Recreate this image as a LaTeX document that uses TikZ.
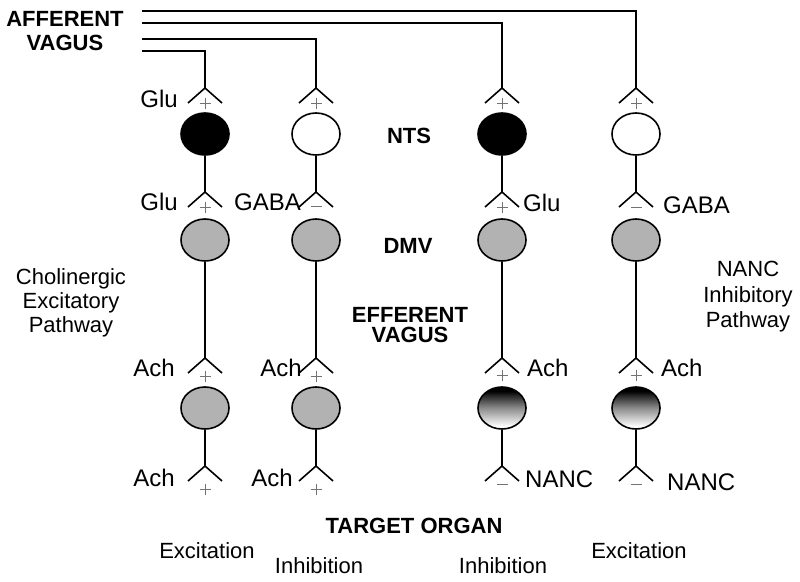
\documentclass[tikz,border=0pt]{standalone}
\usepackage{fontspec}
\setmainfont{Liberation Sans}
\usepackage{tikz}
\usetikzlibrary{shapes,positioning}

% dark cap on top, fading to white at the bottom
\pgfdeclareverticalshading{nancfill}{100bp}{color(0bp)=(white); color(28bp)=(white); color(50bp)=(black!45); color(65bp)=(black!85); color(70bp)=(black); color(100bp)=(black)}

% receptor fork below a fibre end
\newcommand{\fork}[1]{\draw [nerve] (#1) -- +(-17,15) (#1) -- +(17,15);}
\newcommand{\plussign}[2]{\draw [sign] (#1) ++(-5.5,#2) -- +(11,0) (#1) ++(0,{#2-5.5}) -- +(0,11);}
\newcommand{\minussign}[2]{\draw [sign] (#1) ++(-5.5,#2) -- +(11,0);}

\begin{document}
\begin{tikzpicture}[x=1pt,y=-1pt]
\tikzstyle{nerve} = [line width=1.6pt]
\tikzstyle{cell} = [ellipse, draw, line width=1.6pt, minimum width=48pt, minimum height=42pt, inner sep=0pt]
\tikzstyle{sign} = [line width=0.9pt, black!55]
\tikzstyle{tag} = [font=\fontsize{24}{28}\selectfont, inner sep=0pt]
\tikzstyle{txt} = [font=\fontsize{22}{24}\selectfont, inner sep=0pt, align=center]
\tikzstyle{bold} = [font=\fontsize{22}{24}\selectfont\bfseries, inner sep=0pt, align=center]
\useasboundingbox (0,0) rectangle (800,581);

% afferent fibres
\coordinate (a1) at (142,11);
\coordinate (a2) at (142,23);
\coordinate (a3) at (142,39);
\coordinate (a4) at (142,51);

% fibre ends, one row per synapse level
\coordinate (f1a) at (205,88);  \coordinate (f1b) at (316,88);  \coordinate (f1c) at (502,88);  \coordinate (f1d) at (636,88);
\coordinate (f2a) at (205,192); \coordinate (f2b) at (316,192); \coordinate (f2c) at (502,192); \coordinate (f2d) at (636,192);
\coordinate (f3a) at (205,358); \coordinate (f3b) at (316,358); \coordinate (f3c) at (502,358); \coordinate (f3d) at (636,358);
\coordinate (f4a) at (205,466); \coordinate (f4b) at (316,466); \coordinate (f4c) at (502,466); \coordinate (f4d) at (636,466);

% NTS cells
\node [cell, fill=black] (nts1) at (205,134) {};
\node [cell, fill=white] (nts2) at (316,134) {};
\node [cell, fill=black] (nts3) at (502,134) {};
\node [cell, fill=white] (nts4) at (636,134) {};
% DMV cells
\node [cell, fill=black!30] (dmv1) at (205,240) {};
\node [cell, fill=black!30] (dmv2) at (316,240) {};
\node [cell, fill=black!30] (dmv3) at (502,240) {};
\node [cell, fill=black!30] (dmv4) at (636,240) {};
% ganglion cells
\node [cell, fill=black!30] (gan1) at (205,408) {};
\node [cell, fill=black!30] (gan2) at (316,408) {};
\node [cell, shading=nancfill] (gan3) at (502,408) {};
\node [cell, shading=nancfill] (gan4) at (636,408) {};

\draw [nerve] (a1) -| (f1d);
\draw [nerve] (a2) -| (f1c);
\draw [nerve] (a3) -| (f1b);
\draw [nerve] (a4) -| (f1a);
\draw [nerve] (nts1) -- (f2a); \draw [nerve] (nts2) -- (f2b); \draw [nerve] (nts3) -- (f2c); \draw [nerve] (nts4) -- (f2d);
\draw [nerve] (dmv1) -- (f3a); \draw [nerve] (dmv2) -- (f3b); \draw [nerve] (dmv3) -- (f3c); \draw [nerve] (dmv4) -- (f3d);
\draw [nerve] (gan1) -- (f4a); \draw [nerve] (gan2) -- (f4b); \draw [nerve] (gan3) -- (f4c); \draw [nerve] (gan4) -- (f4d);

\fork{f1a} \fork{f1b} \fork{f1c} \fork{f1d}
\fork{f2a} \fork{f2b} \fork{f2c} \fork{f2d}
\fork{f3a} \fork{f3b} \fork{f3c} \fork{f3d}
\fork{f4a} \fork{f4b} \fork{f4c} \fork{f4d}

\plussign{f1a}{15.5} \plussign{f1b}{15.5} \plussign{f1c}{15.5} \plussign{f1d}{15.5}
\plussign{f2a}{15.5} \minussign{f2b}{14} \plussign{f2c}{15.5} \minussign{f2d}{15}
\plussign{f3a}{18} \plussign{f3b}{18} \plussign{f3c}{17} \plussign{f3d}{17}
\plussign{f4a}{23} \plussign{f4b}{23} \minussign{f4c}{18} \minussign{f4d}{18}

% transmitters
\node [tag, anchor=base east] (glu1) at (178,107) {Glu};
\node [tag, anchor=base east] (glu2) at (178,210) {Glu};
\node [tag, anchor=base east] (gaba1) at (301,210) {GABA};
\node [tag, anchor=base west] (glu3) at (523,211) {Glu};
\node [tag, anchor=base west] (gaba2) at (663,213) {GABA};
\node [tag, anchor=base east] (ach1) at (175,376) {Ach};
\node [tag, anchor=base east] (ach2) at (302,376) {Ach};
\node [tag, anchor=base west] (ach3) at (527,376) {Ach};
\node [tag, anchor=base west] (ach4) at (661,376) {Ach};
\node [tag, anchor=base east] (ach5) at (175,486) {Ach};
\node [tag, anchor=base east] (ach6) at (293,486) {Ach};
\node [tag, anchor=base west] (nanc1) at (525,487) {NANC};
\node [tag, anchor=base west] (nanc2) at (667,490) {NANC};

% headings
\node [bold] (afferent) at (65,31) {AFFERENT\\VAGUS};
\node [bold, anchor=base] (nts) at (409,143) {NTS};
\node [bold, anchor=base] (dmv) at (408,253) {DMV};
\node [bold, font=\fontsize{22}{20}\selectfont\bfseries] (efferent) at (410,325) {EFFERENT\\VAGUS};
\node [bold, anchor=base] (target) at (414,533) {TARGET ORGAN};
\node [txt] (cholin) at (71,303) {Cholinergic\\Excitatory\\Pathway};
\node [txt, font=\fontsize{22}{25.5}\selectfont] (nancpath) at (748,297) {NANC\\Inhibitory\\Pathway};

% effects on the organ
\node [txt, anchor=base] (eff1) at (207,558) {Excitation};
\node [txt, anchor=base] (eff2) at (319,573) {Inhibition};
\node [txt, anchor=base] (eff3) at (503,573) {Inhibition};
\node [txt, anchor=base] (eff4) at (639,558) {Excitation};
\end{tikzpicture}
\end{document}
